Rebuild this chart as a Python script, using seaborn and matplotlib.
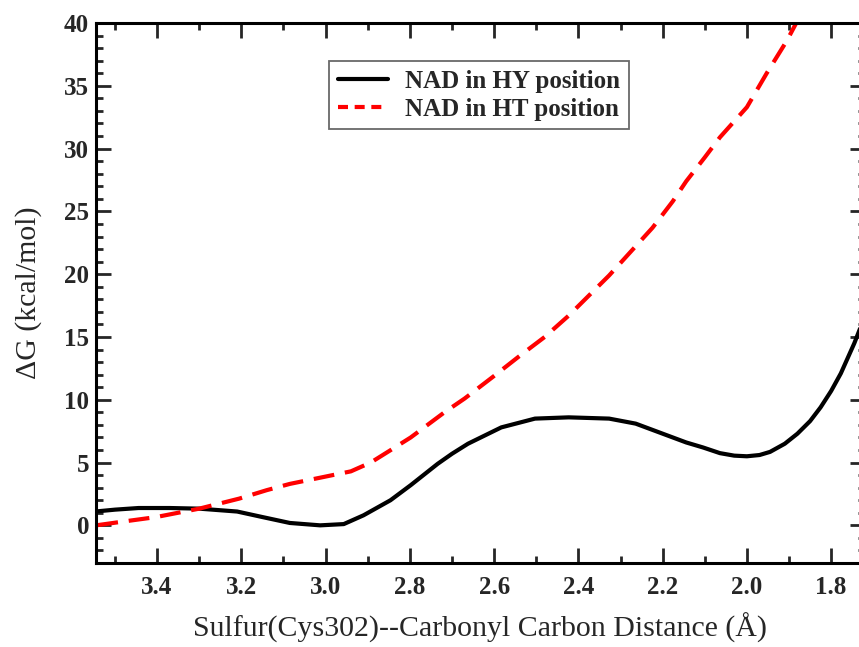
import numpy as np
import pandas as pd
import matplotlib
matplotlib.use("Agg")
import matplotlib.pyplot as plt
from matplotlib.ticker import MultipleLocator
import seaborn as sns

# Free energy profiles
hy_dist = [3.547, 3.50, 3.444, 3.37, 3.30, 3.21, 3.15, 3.085, 3.013, 2.957,
           2.91, 2.846, 2.798, 2.734, 2.70, 2.662, 2.583, 2.503, 2.423, 2.327,
           2.264, 2.224, 2.184, 2.144, 2.104, 2.064, 2.03, 2.0, 1.97, 1.945,
           1.91, 1.88, 1.85, 1.825, 1.80, 1.777, 1.745, 1.724]
hy_dg = [1.1, 1.25, 1.38, 1.38, 1.33, 1.1, 0.66, 0.19, 0.0, 0.1,
         0.8, 2.0, 3.2, 4.9, 5.7, 6.5, 7.8, 8.5, 8.6, 8.5,
         8.1, 7.6, 7.1, 6.6, 6.2, 5.75, 5.55, 5.5, 5.6, 5.85,
         6.5, 7.3, 8.3, 9.4, 10.7, 12.1, 14.5, 16.3]

ht_dist = [3.545, 3.47, 3.404, 3.30, 3.205, 3.14, 3.085, 3.005, 2.94, 2.893,
           2.85, 2.798, 2.718, 2.67, 2.60, 2.543, 2.48, 2.423, 2.327, 2.224,
           2.176, 2.144, 2.10, 2.064, 2.0, 1.953, 1.905, 1.875]
ht_dg = [0.0, 0.35, 0.65, 1.33, 2.13, 2.8, 3.3, 3.85, 4.3, 5.0,
         5.9, 7.0, 9.0, 10.1, 11.9, 13.4, 15.0, 16.7, 19.9, 23.7,
         25.8, 27.4, 29.3, 30.9, 33.3, 36.0, 38.6, 40.5]

labels = ["NAD in HY position", "NAD in HT position"]

df_hy = pd.DataFrame({"dist": hy_dist, "dg": hy_dg})
df_ht = pd.DataFrame({"dist": ht_dist, "dg": ht_dg})

sns.set_style("ticks")
plt.rcParams["font.family"] = ["Liberation Serif", "DejaVu Serif"]

fig = plt.figure(figsize=(8.59, 6.47), dpi=100)
ax = fig.add_axes([0.1118, 0.1298, 0.895, 0.8346])

sns.lineplot(data=df_hy, x="dist", y="dg", ax=ax, color="black", lw=3,
             label=labels[0])
sns.lineplot(data=df_ht, x="dist", y="dg", ax=ax, color="#ff0000", lw=3,
             label=labels[1])
ax.lines[1].set_dashes((5, 2.6))

ax.set_xlim(3.545, 1.72)
ax.set_ylim(-3, 40)
ax.xaxis.set_minor_locator(MultipleLocator(0.1))
ax.yaxis.set_major_locator(MultipleLocator(5))
ax.yaxis.set_minor_locator(MultipleLocator(1))
ax.set_xticks([3.4, 3.2, 3.0, 2.8, 2.6, 2.4, 2.2, 2.0, 1.8])
ax.set_xticklabels(["3.4", "3.2", "3.0", "2.8", "2.6", "2.4", "2.2", "2.0", "1.8"])

ax.tick_params(which="both", direction="in", top=True, right=True, width=2,
               labelsize=18)
ax.tick_params(which="major", length=11)
ax.tick_params(which="minor", length=5)
ax.tick_params(axis="x", pad=9)
ax.tick_params(axis="y", pad=5)
for lab in ax.get_xticklabels() + ax.get_yticklabels():
    lab.set_fontweight("bold")
for sp in ax.spines.values():
    sp.set_linewidth(2.2)
    sp.set_color("black")

ax.set_xlabel("Sulfur(Cys302)--Carbonyl Carbon Distance (Å)", fontsize=21.5,
              labelpad=10)
ax.set_ylabel("ΔG (kcal/mol)", fontsize=21.5, labelpad=16)

leg = ax.legend(loc="upper left", bbox_to_anchor=(0.303, 0.93),
                prop={"weight": "bold", "size": 18}, frameon=True,
                fancybox=False, handlelength=2.0, borderpad=0.35,
                labelspacing=0.2, handletextpad=0.7, borderaxespad=0)
leg.get_frame().set_edgecolor("#444444")
leg.get_frame().set_linewidth(1.3)
leg.get_lines()[1].set_dashes((2.4, 1.6))

fig.savefig("out.png", dpi=100)
